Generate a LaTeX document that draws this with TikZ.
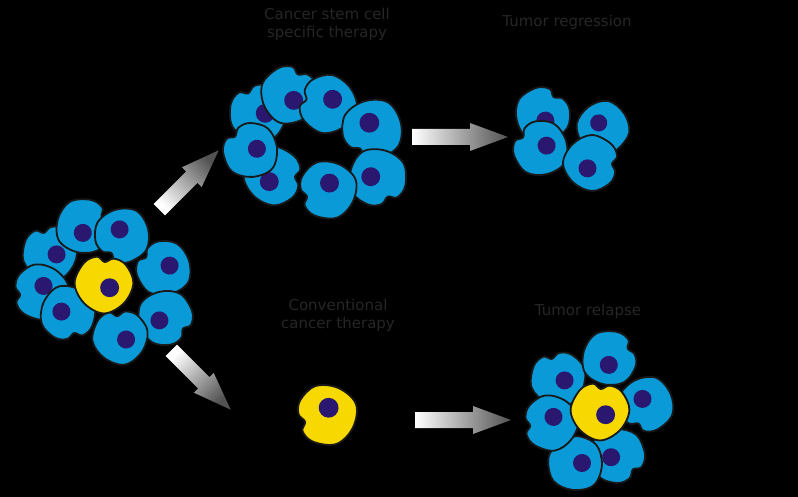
\documentclass[tikz,border=0pt]{standalone}
\usepackage{fontspec}
\setmainfont{DejaVu Sans}
\definecolor{cblue}{HTML}{0A9AD8}
\definecolor{cnuc}{HTML}{2A1770}
\definecolor{cyel}{HTML}{F7D800}
\definecolor{txt}{HTML}{262626}
\tikzset{
 cellline/.style={draw=black!90,line width=1.8pt},
 lbl/.style={text=txt,font=\fontsize{15}{18}\selectfont,align=center},
}
% #1 x, #2 y, #3 rotation, #4 color, #5 scale
\newcommand\mycell[5]{%
 \begin{scope}[shift={(#1,#2)},rotate=#3,scale=#5]
 \filldraw[cellline,fill=#4] plot[smooth cycle,tension=0.6] coordinates{
  (0:28) (45:27) (90:29) (135:27) (180:28) (225:27) (255:26) (272:20) (292:25) (320:27)};
 \fill[cnuc] (40:7) circle (9);
 \end{scope}}
% gradient arrow: #1 x, #2 y, #3 rotation, #4 shading angle, #5 half length
\newcommand\myarrow[5]{%
 \begin{scope}[shift={(#1,#2)},rotate=#3]
 \shade[left color=white,right color=black!68,shading angle=#4] (-#5,-8) -- (#5-38,-8) -- (#5-38,-14) -- (#5,0) -- (#5-38,14) -- (#5-38,8) -- (-#5,8) -- cycle;
 \end{scope}}
\begin{document}
\begin{tikzpicture}[x=1pt,y=-1pt]
\fill[black] (0,0) rectangle (798,497);
\useasboundingbox (0,0) rectangle (798,497);
% left cluster
\mycell{50}{252}{20}{cblue}{1}
\mycell{40}{292}{100}{cblue}{1}
\mycell{68}{314}{200}{cblue}{1}
\mycell{84}{226}{-60}{cblue}{1}
\mycell{122}{236}{150}{cblue}{1}
\mycell{163}{268}{60}{cblue}{1}
\mycell{166}{318}{-120}{cblue}{1}
\mycell{120}{336}{10}{cblue}{1}
\mycell{104}{283}{0}{cyel}{1.05}
% top ring
\mycell{258}{112}{30}{cblue}{1.05}
\mycell{290}{94}{-20}{cblue}{1.05}
\mycell{327}{104}{80}{cblue}{1.05}
\mycell{372}{130}{150}{cblue}{1.1}
\mycell{378}{178}{-150}{cblue}{1.05}
\mycell{327}{190}{110}{cblue}{1.05}
\mycell{274}{176}{-90}{cblue}{1.05}
\mycell{250}{150}{50}{cblue}{1}
% regression
\mycell{543}{114}{-30}{cblue}{1}
\mycell{603}{128}{170}{cblue}{0.95}
\mycell{540}{148}{60}{cblue}{1}
\mycell{592}{163}{-90}{cblue}{1}
% single
\mycell{326}{415}{110}{cyel}{1.1}
% relapse
\mycell{558}{378}{20}{cblue}{1}
\mycell{610}{358}{-60}{cblue}{1}
\mycell{646}{405}{160}{cblue}{1}
\mycell{618}{456}{-130}{cblue}{1}
\mycell{575}{463}{40}{cblue}{1}
\mycell{550}{423}{100}{cblue}{1}
\mycell{600}{410}{0}{cyel}{1.05}
% arrows
\myarrow{189}{180}{45}{135}{42}
\myarrow{201}{380}{-45}{45}{42}
\myarrow{460}{137}{0}{90}{48}
\myarrow{463}{420}{0}{90}{48}
% labels
\node[lbl] (l1) at (327,24) {Cancer stem cell\\specific therapy};
\node[lbl] (l2) at (567,22) {Tumor regression};
\node[lbl] (l3) at (338,315) {Conventional\\cancer therapy};
\node[lbl] (l4) at (588,311) {Tumor relapse};
\end{tikzpicture}
\end{document}
